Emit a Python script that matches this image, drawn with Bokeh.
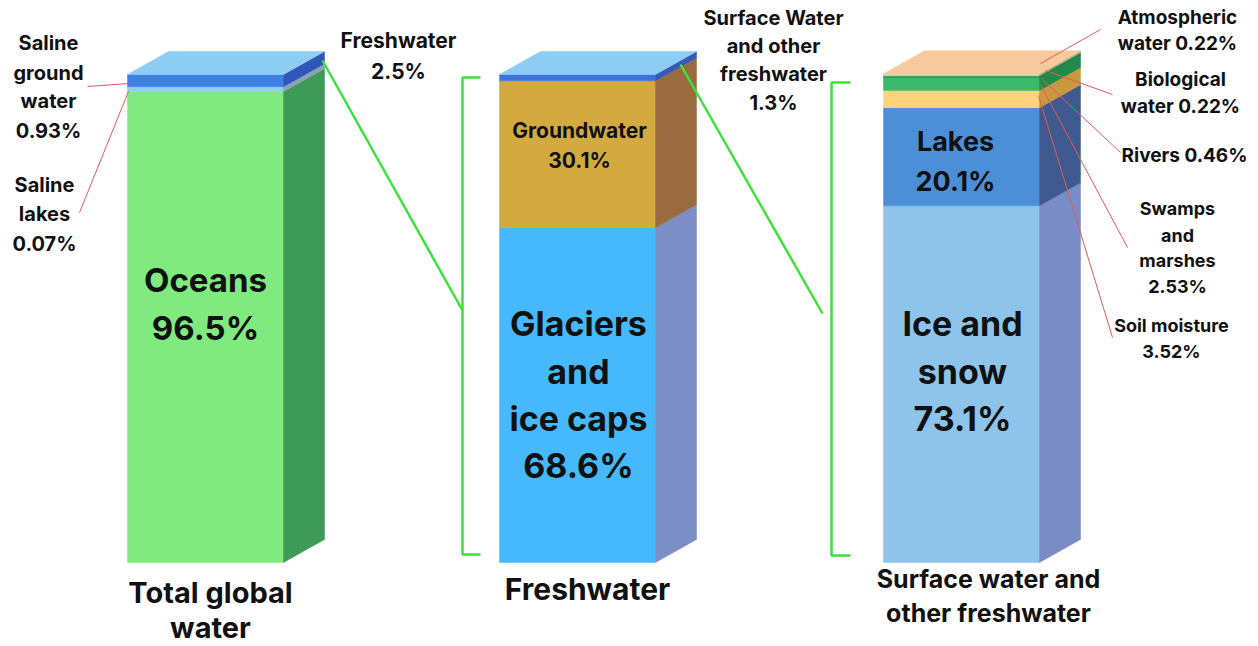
from bokeh.plotting import figure
from bokeh.models import Range1d, ColumnDataSource
from bokeh.core.properties import value
from bokeh.embed import file_html
from bokeh.resources import INLINE
import numpy as np

# ---------------- data ----------------
bar1_names = ["Oceans", "Saline lakes", "Saline ground water", "Freshwater"]
bar1_values = [96.5, 0.07, 0.93, 2.5]

bar2_names = ["Glaciers and ice caps", "Groundwater", "Surface Water and other freshwater"]
bar2_values = [68.6, 30.1, 1.3]

bar3_names = ["Ice and snow", "Lakes", "Soil moisture", "Swamps and marshes",
              "Rivers", "Biological water", "Atmospheric water"]
bar3_values = [73.1, 20.1, 3.52, 2.53, 0.46, 0.22, 0.22]

bar_titles = [["Total global", "water"], ["Freshwater"], ["Surface water and", "other freshwater"]]

# ---------------- styles / layout ----------------
W, H = 1258, 646
PX_BOTTOM, PX_TOP = 562, 74          # pixel rows of 0% and 100%
PPU = (PX_BOTTOM - PX_TOP) / 100.0   # pixels per percent


def yv(py):
    return (PX_BOTTOM - py) / PPU


FONT = value("Inter")
bar_left = [127, 499, 883]
bar_w = 156
dx = 41
dy = 23 / PPU

front_cols = [
    ["#80ea80", "#9fe3c6", "#8fd2e6", "#3f80e4"],
    ["#45b9fb", "#d3aa40", "#3f70dc"],
    ["#8ec4ea", "#4c8fd7", "#fdd37c", "#3cba6c", "#2aa05a", "#a8dcb0", "#f7cc9d"],
]
side_cols = [
    ["#3d9b57", "#7fb0a0", "#8aa3b0", "#2f56b8"],
    ["#7b8ec6", "#9a6b3e", "#3658b8"],
    ["#7a8cc6", "#3e5a90", "#c9983f", "#1f8a4a", "#1c7a45", "#6fb080", "#d9a878"],
]
top_cols = ["#8dcdf4", "#8dcdf4", "#f6ca9c"]

p = figure(width=W, height=H, output_backend="svg", toolbar_location=None,
           x_range=Range1d(0, W), y_range=Range1d(yv(H), yv(0)),
           min_border=0, min_border_left=0, min_border_right=0,
           min_border_top=0, min_border_bottom=0)
p.axis.visible = False
p.xgrid.visible = False
p.ygrid.visible = False
p.outline_line_color = None
p.background_fill_color = "white"
p.border_fill_color = "white"

all_values = [bar1_values, bar2_values, bar3_values]
for i, vals in enumerate(all_values):
    vals = np.array(vals, dtype=float)
    tops = np.cumsum(vals)
    bottoms = tops - vals
    xl = bar_left[i]
    xr = xl + bar_w
    src = ColumnDataSource(dict(
        x=[xl + bar_w / 2] * len(vals), bottom=bottoms, top=tops,
        color=front_cols[i], side=side_cols[i],
        xs=[[xr, xr + dx, xr + dx, xr] for _ in vals],
        ys=[[b, b + dy, t + dy, t] for b, t in zip(bottoms, tops)],
    ))
    p.vbar(x="x", width=bar_w, bottom="bottom", top="top", source=src,
           fill_color="color", line_color="color", line_width=0.5)
    p.patches(xs="xs", ys="ys", source=src, fill_color="side",
              line_color="side", line_width=0.5)
    t = tops[-1]
    p.patch([xl, xl + dx, xr + dx, xr], [t, t + dy, t + dy, t],
            fill_color=top_cols[i], line_color=top_cols[i], line_width=0.5)

# ---------------- brackets and connectors (green) ----------------
G = "#3de23d"
p.line([480, 462, 462, 480], [yv(77), yv(77), yv(554), yv(554)], line_color=G, line_width=2.5)
p.line([322, 462], [yv(60), yv(310)], line_color=G, line_width=2.5)
p.line([850, 831, 831, 850], [yv(82), yv(82), yv(555), yv(555)], line_color=G, line_width=2.5)
p.line([680, 822], [yv(64), yv(313)], line_color=G, line_width=2.5)

# ---------------- red leader lines ----------------
R = "#e35b5b"
leaders = [
    ((87, 86), (128, 83)),
    ((79, 212), (128, 91)),
    ((1100, 29), (1040, 63)),
    ((1112, 94), (1045, 70)),
    ((1120, 152), (1041, 78)),
    ((1127, 247), (1040, 84)),
    ((1112, 337), (1038, 95)),
]
for (x0, y0), (x1, y1) in leaders:
    p.line([x0, x1], [yv(y0), yv(y1)], line_color=R, line_width=1)


# ---------------- texts ----------------
def txt(lines, x, ys, size):
    p.text(x=[x] * len(lines), y=[yv(v) for v in ys], text=lines,
           text_font=FONT, text_font_style="bold", text_font_size=f"{size}px",
           text_color="#111111", text_align="center", text_baseline="middle")


# inside labels
txt(["Oceans", "96.5%"], 205, [279, 327], 33)
txt(["Groundwater", "30.1%"], 579, [130, 160], 21)
txt(["Glaciers", "and", "ice caps", "68.6%"], 578, [323, 371, 418, 465], 34)
txt(["Lakes", "20.1%"], 955, [141, 181], 27)
txt(["Ice and", "snow", "73.1%"], 962, [323, 371, 418], 34)

# bar titles
txt(bar_titles[0], 210, [592, 627], 29)
txt(bar_titles[1], 587, [588], 30)
txt(bar_titles[2], 988, [578, 612], 25)

# callouts
txt(["Saline", "ground", "water", "0.93%"], 48, [42, 72, 100, 130], 20)
txt(["Saline", "lakes", "0.07%"], 44, [184, 213, 243], 20)
txt(["Freshwater", "2.5%"], 398, [40, 71], 21)
txt(["Surface Water", "and other", "freshwater", "1.3%"], 773, [17, 45, 73, 102], 20)
txt(["Atmospheric", "water 0.22%"], 1177, [17, 43], 19)
txt(["Biological", "water 0.22%"], 1180, [79, 106], 19)
txt(["Rivers 0.46%"], 1184, [155], 19)
txt(["Swamps", "and", "marshes", "2.53%"], 1177, [208, 235, 260, 286], 18)
txt(["Soil moisture", "3.52%"], 1171, [325, 351], 18)

open("out.html", "w").write(file_html(p, INLINE))
